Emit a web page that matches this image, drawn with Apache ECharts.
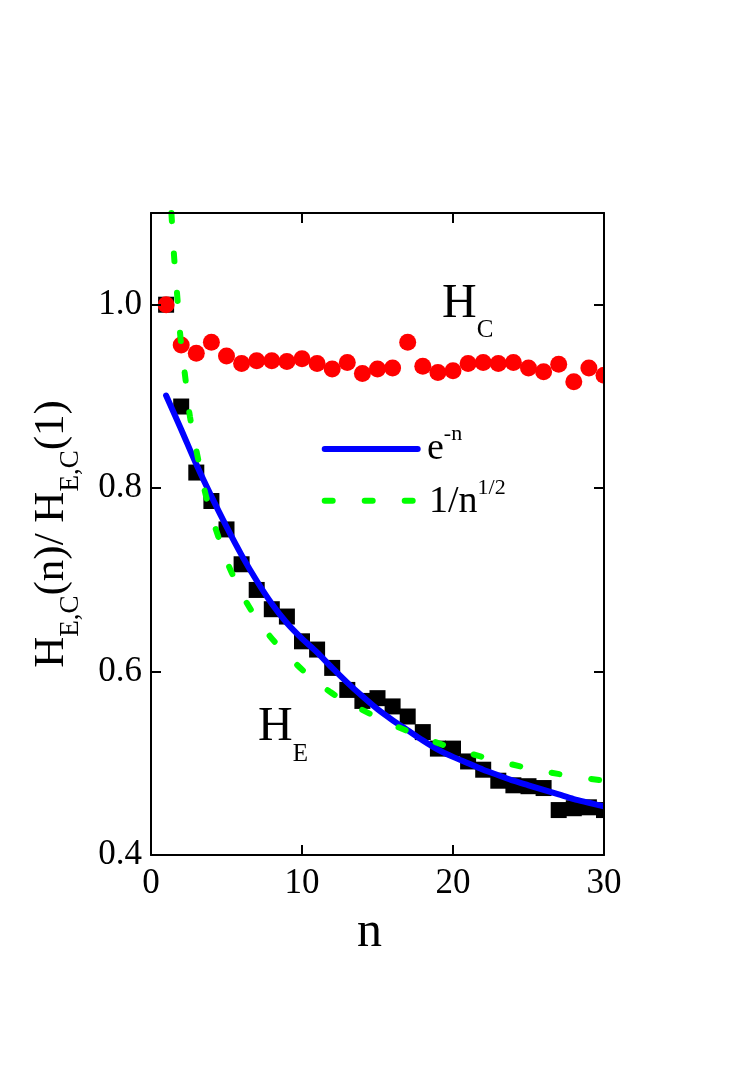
<!DOCTYPE html>
<html>
<head>
<meta charset="utf-8">
<script src="https://cdn.jsdelivr.net/npm/echarts@6/dist/echarts.min.js"></script>
<style>
html,body{margin:0;padding:0;background:#fff;}
#chart{width:756px;height:1070px;}
</style>
</head>
<body>
<div id="chart"></div>
<script>
// ---- data ----
const nValues = [1,2,3,4,5,6,7,8,9,10,11,12,13,14,15,16,17,18,19,20,21,22,23,24,25,26,27,28,29,30];
const hC = [1.000,0.956,0.947,0.959,0.944,0.936,0.939,0.939,0.938,0.941,0.936,0.930,0.937,0.925,0.930,0.931,0.959,0.933,0.926,0.928,0.936,0.937,0.936,0.937,0.931,0.927,0.935,0.916,0.931,0.923];
const hE = [1.000,0.889,0.817,0.786,0.755,0.717,0.689,0.668,0.660,0.633,0.624,0.604,0.580,0.568,0.571,0.562,0.551,0.534,0.516,0.516,0.502,0.493,0.481,0.476,0.475,0.473,0.449,0.451,0.452,0.449];
const expCurve = [0.901,0.864,0.826,0.791,0.758,0.727,0.699,0.674,0.653,0.636,0.621,0.604,0.588,0.573,0.559,0.547,0.536,0.525,0.515,0.507,0.500,0.493,0.487,0.481,0.476,0.471,0.466,0.461,0.457,0.453];
const sqrtN = [1.30,1.54,1.77,1.96,2.29,2.58,3.13,3.68,4.46,5.45,7.0,9.2,11.85,14.5,17.14,19.9,22.4,25.2,27.84,30];
const sqrtV = [1.115,1.050,1.003,0.963,0.918,0.878,0.831,0.789,0.747,0.704,0.658,0.615,0.578,0.554,0.534,0.517,0.505,0.494,0.486,0.481];
const xTicks = [0,10,20,30];
const yTicks = [0.4,0.6,0.8,1.0];

const FONT = 'Liberation Serif';
const BLACK = '#000000';

const pair = (xs, ys) => xs.map((x, i) => [x, ys[i]]);

const axisLine = {show:true, onZero:false, lineStyle:{color:BLACK, width:2}};
const axisTick = (vals) => ({show:true, inside:true, length:10, customValues: vals, lineStyle:{color:BLACK, width:2}});
const labelStyle = {fontFamily:FONT, fontSize:35, color:BLACK, lineHeight:35};

const chart = echarts.init(document.getElementById('chart'), null, {renderer:'canvas'});
chart.setOption({
  animation:false,
  backgroundColor:'#ffffff',
  grid:{left:151, top:213, width:453, height:642, containLabel:false},
  xAxis:[
    {type:'value', position:'bottom', min:0, max:30, interval:10, z:10,
     axisLine:axisLine, axisTick:axisTick(xTicks),
     axisLabel:Object.assign({show:true, margin:11, customValues:xTicks}, labelStyle),
     splitLine:{show:false},
     name:'n', nameLocation:'middle', nameGap:53,
     nameTextStyle:{fontFamily:FONT, fontSize:50, color:BLACK, lineHeight:50, padding:[0,16,0,0]}},
    {type:'value', position:'top', min:0, max:30, interval:10, z:10,
     axisLine:axisLine, axisTick:axisTick(xTicks), axisLabel:{show:false}, splitLine:{show:false}}
  ],
  yAxis:[
    {type:'value', position:'left', min:0.4, max:1.1, interval:0.2, z:10,
     axisLine:axisLine, axisTick:axisTick(yTicks),
     axisLabel:Object.assign({show:true, margin:9, customValues:yTicks, formatter:(v)=>v.toFixed(1)}, labelStyle),
     splitLine:{show:false},
     name:'{m|H}{s|E,C}{m|(n)/ H}{s|E,C}{m|(1)}', nameLocation:'middle', nameGap:78,
     nameTextStyle:{fontFamily:FONT, color:BLACK,
       rich:{
         m:{fontFamily:FONT, fontSize:43, lineHeight:43, color:BLACK},
         s:{fontFamily:FONT, fontSize:27, lineHeight:27, color:BLACK, padding:[38,0,0,0]}
       }}},
    {type:'value', position:'right', min:0.4, max:1.1, interval:0.2, z:10,
     axisLine:axisLine, axisTick:axisTick(yTicks), axisLabel:{show:false}, splitLine:{show:false}}
  ],
  series:[
    {name:'H_E', type:'scatter', data:pair(nValues, hE), symbol:'rect', symbolSize:16,
     itemStyle:{color:BLACK, opacity:1}, z:2},
    {name:'H_C', type:'scatter', data:pair(nValues, hC), symbol:'circle', symbolSize:17,
     itemStyle:{color:'#ff0000', opacity:1}, z:3},
    {name:'e^-n', type:'line', data:pair(nValues, expCurve), showSymbol:false, symbol:'none',
     smooth:0.3, clip:true, lineStyle:{color:'#0000ff', width:6, cap:'round'}, z:4},
    {name:'1/n^1/2', type:'line', data:pair(sqrtN, sqrtV), showSymbol:false, symbol:'none',
     smooth:0.4, clip:true, lineStyle:{color:'#00ff00', width:6, cap:'round', type:[8,32], dashOffset:26}, z:5}
  ],
  graphic:[
    // white mask outside right frame so marks are cut at the frame like the original
    {type:'rect', z:9, shape:{x:605, y:200, width:40, height:660}, style:{fill:'#ffffff'}},
    // legend
    {type:'line', z:6, shape:{x1:324.7, y1:449, x2:417.7, y2:449}, style:{stroke:'#0000ff', lineWidth:6, lineCap:'round'}},
    {type:'line', z:6, shape:{x1:324.7, y1:500.7, x2:417.7, y2:500.7}, style:{stroke:'#00ff00', lineWidth:6, lineCap:'round', lineDash:[8,32]}},
    {type:'text', z:6, x:427, y:449, style:{text:'{m|e}{p|-n}', align:'left', verticalAlign:'middle', fill:BLACK, fontFamily:FONT,
      rich:{m:{fontFamily:FONT, fontSize:38, lineHeight:38, fill:BLACK}, p:{fontFamily:FONT, fontSize:22, lineHeight:22, fill:BLACK, padding:[0,0,30,0]}}}},
    {type:'text', z:6, x:429, y:501.7, style:{text:'{m|1/n}{p|1/2}', align:'left', verticalAlign:'middle', fill:BLACK, fontFamily:FONT,
      rich:{m:{fontFamily:FONT, fontSize:38, lineHeight:38, fill:BLACK}, p:{fontFamily:FONT, fontSize:22, lineHeight:22, fill:BLACK, padding:[0,0,27,0]}}}},
    // series annotations
    {type:'text', z:6, x:442, y:304.7, style:{text:'{m|H}{s|C}', align:'left', verticalAlign:'middle', fill:BLACK, fontFamily:FONT,
      rich:{m:{fontFamily:FONT, fontSize:48, lineHeight:48, fill:BLACK}, s:{fontFamily:FONT, fontSize:25, lineHeight:25, fill:BLACK, padding:[52,0,0,0]}}}},
    {type:'text', z:6, x:258, y:727.1, style:{text:'{m|H}{s|E}', align:'left', verticalAlign:'middle', fill:BLACK, fontFamily:FONT,
      rich:{m:{fontFamily:FONT, fontSize:48, lineHeight:48, fill:BLACK}, s:{fontFamily:FONT, fontSize:25, lineHeight:25, fill:BLACK, padding:[54,0,0,0]}}}}
  ]
});
</script>
</body>
</html>
